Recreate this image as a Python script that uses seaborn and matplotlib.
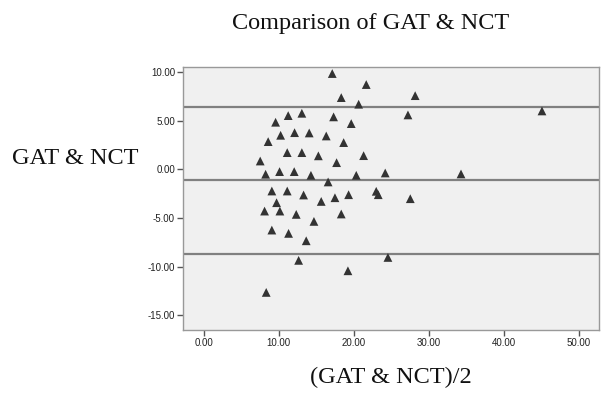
import matplotlib
matplotlib.use("Agg")
import matplotlib.pyplot as plt
import seaborn as sns
import pandas as pd

# Mean of GAT & NCT (x) and difference (y)
mean_vals = [11.28, 13.1, 9.6, 10.27, 12.13, 14.08, 8.61, 11.15, 13.1, 15.3,
             7.55, 8.27, 10.13, 12.08, 14.31, 9.1, 11.15, 13.33, 9.73, 15.68,
             8.13, 10.17, 12.35, 14.71, 9.1, 11.33, 13.68, 12.67, 8.35, 17.15,
             21.68, 18.35, 28.2, 20.67, 17.33, 27.24, 19.68, 16.35, 18.67, 21.33,
             17.73, 20.35, 24.21, 16.6, 17.51, 19.33, 23.01, 23.28, 27.55, 18.35,
             24.57, 19.24, 34.31, 45.1]
diff_vals = [5.51, 5.75, 4.83, 3.49, 3.76, 3.73, 2.84, 1.71, 1.71, 1.38,
             0.85, -0.51, -0.24, -0.24, -0.62, -2.23, -2.23, -2.64, -3.43, -3.3,
             -4.29, -4.29, -4.63, -5.35, -6.24, -6.58, -7.34, -9.35, -12.64, 9.83,
             8.7, 7.36, 7.56, 6.68, 5.38, 5.58, 4.69, 3.42, 2.74, 1.4,
             0.68, -0.62, -0.38, -1.3, -2.92, -2.61, -2.26, -2.61, -3.02, -4.59,
             -9.05, -10.42, -0.48, 5.99]
# Bland-Altman reference lines: upper limit, mean difference, lower limit
ref_lines = [6.37, -1.10, -8.67]

x_ticks = [0, 10, 20, 30, 40, 50]
y_ticks = [-15, -10, -5, 0, 5, 10]

title_text = "Comparison of GAT & NCT"
xlabel_text = "(GAT & NCT)/2"
ylabel_text = "GAT & NCT"

df = pd.DataFrame({"mean": mean_vals, "diff": diff_vals})

sns.set_theme(style="ticks")
plt.rcParams["font.family"] = ["Liberation Sans", "DejaVu Sans"]

fig = plt.figure(figsize=(6.05, 3.95), dpi=100)
ax = fig.add_axes([183.3 / 605, 1 - 330 / 395, (599 - 183.3) / 605, (330 - 67) / 395])
ax.set_facecolor("#f0f0f0")

for v in ref_lines:
    ax.axhline(v, color="#808080", linewidth=1.6, zorder=1)

sns.scatterplot(data=df, x="mean", y="diff", marker="^", color="#333333",
                s=40, edgecolor="none", ax=ax, zorder=3)

ax.set_xlim(-2.7, 52.7)
ax.set_ylim(-16.5, 10.5)
ax.set_xticks(x_ticks)
ax.set_yticks(y_ticks)
ax.set_xticklabels([f"{t:.2f}" for t in x_ticks])
ax.set_yticklabels([f"{t:.2f}" for t in y_ticks])
ax.tick_params(axis="both", labelsize=7, length=4, width=1, color="#555555",
               pad=2, labelcolor="#222222", direction="out")
for s in ax.spines.values():
    s.set_color("#999999")
    s.set_linewidth(1.0)
ax.set_xlabel("")
ax.set_ylabel("")

serif = ["Liberation Serif", "DejaVu Serif"]
fig.text(371 / 605, 1 - 23 / 395, title_text, ha="center", va="center",
         fontsize=17.5, family=serif, color="#111111")
fig.text(391 / 605, 1 - 377 / 395, xlabel_text, ha="center", va="center",
         fontsize=17.5, family=serif, color="#111111")
fig.text(12 / 605, 1 - 158 / 395, ylabel_text, ha="left", va="center",
         fontsize=17.5, family=serif, color="#111111")

fig.savefig("out.png", dpi=100, facecolor="white")
